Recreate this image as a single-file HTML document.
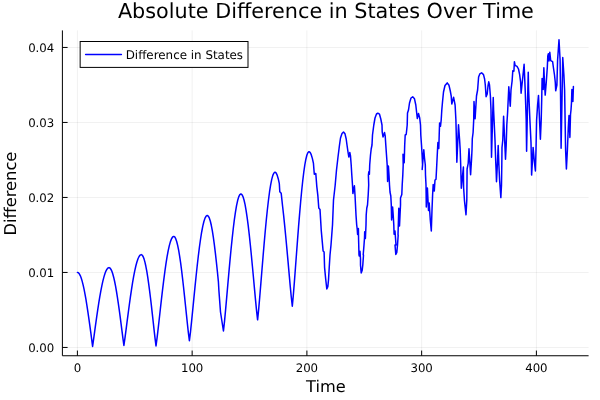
<!DOCTYPE html>
<html>
<head>
<meta charset="utf-8">
<title>Absolute Difference in States Over Time</title>
<style>
html,body{margin:0;padding:0;background:#fff;}
body{width:600px;height:400px;overflow:hidden;}
svg{display:block;}
text{font-family:"DejaVu Sans","Liberation Sans",sans-serif;fill:#000;text-rendering:geometricPrecision;}
</style>
</head>
<body>
<svg width="600" height="400" viewBox="0 0 600 400">
<rect x="0" y="0" width="600" height="400" fill="#fff"/>
<g>
<line x1="77.40" y1="30.4" x2="77.40" y2="355.75" stroke="#000" stroke-opacity="0.1" stroke-width="0.6"/>
<line x1="192.15" y1="30.4" x2="192.15" y2="355.75" stroke="#000" stroke-opacity="0.1" stroke-width="0.6"/>
<line x1="306.90" y1="30.4" x2="306.90" y2="355.75" stroke="#000" stroke-opacity="0.1" stroke-width="0.6"/>
<line x1="421.65" y1="30.4" x2="421.65" y2="355.75" stroke="#000" stroke-opacity="0.1" stroke-width="0.6"/>
<line x1="536.40" y1="30.4" x2="536.40" y2="355.75" stroke="#000" stroke-opacity="0.1" stroke-width="0.6"/>
<line x1="62.4" y1="347.45" x2="588.6" y2="347.45" stroke="#000" stroke-opacity="0.1" stroke-width="0.6"/>
<line x1="62.4" y1="272.45" x2="588.6" y2="272.45" stroke="#000" stroke-opacity="0.1" stroke-width="0.6"/>
<line x1="62.4" y1="197.45" x2="588.6" y2="197.45" stroke="#000" stroke-opacity="0.1" stroke-width="0.6"/>
<line x1="62.4" y1="122.45" x2="588.6" y2="122.45" stroke="#000" stroke-opacity="0.1" stroke-width="0.6"/>
<line x1="62.4" y1="47.45" x2="588.6" y2="47.45" stroke="#000" stroke-opacity="0.1" stroke-width="0.6"/>
</g>
<g>
<line x1="62.4" y1="355.75" x2="588.6" y2="355.75" stroke="#000" stroke-width="1"/>
<line x1="62.4" y1="30.4" x2="62.4" y2="355.75" stroke="#000" stroke-width="1"/>
<line x1="77.40" y1="355.75" x2="77.40" y2="350.55" stroke="#000" stroke-width="1"/>
<text x="77.40" y="371.85" text-anchor="middle" font-size="11.75">0</text>
<line x1="192.15" y1="355.75" x2="192.15" y2="350.55" stroke="#000" stroke-width="1"/>
<text x="192.15" y="371.85" text-anchor="middle" font-size="11.75">100</text>
<line x1="306.90" y1="355.75" x2="306.90" y2="350.55" stroke="#000" stroke-width="1"/>
<text x="306.90" y="371.85" text-anchor="middle" font-size="11.75">200</text>
<line x1="421.65" y1="355.75" x2="421.65" y2="350.55" stroke="#000" stroke-width="1"/>
<text x="421.65" y="371.85" text-anchor="middle" font-size="11.75">300</text>
<line x1="536.40" y1="355.75" x2="536.40" y2="350.55" stroke="#000" stroke-width="1"/>
<text x="536.40" y="371.85" text-anchor="middle" font-size="11.75">400</text>
<line x1="62.4" y1="347.45" x2="67.6" y2="347.45" stroke="#000" stroke-width="1"/>
<text x="54.3" y="351.50" text-anchor="end" font-size="11.75">0.00</text>
<line x1="62.4" y1="272.45" x2="67.6" y2="272.45" stroke="#000" stroke-width="1"/>
<text x="54.3" y="276.50" text-anchor="end" font-size="11.75">0.01</text>
<line x1="62.4" y1="197.45" x2="67.6" y2="197.45" stroke="#000" stroke-width="1"/>
<text x="54.3" y="201.50" text-anchor="end" font-size="11.75">0.02</text>
<line x1="62.4" y1="122.45" x2="67.6" y2="122.45" stroke="#000" stroke-width="1"/>
<text x="54.3" y="126.50" text-anchor="end" font-size="11.75">0.03</text>
<line x1="62.4" y1="47.45" x2="67.6" y2="47.45" stroke="#000" stroke-width="1"/>
<text x="54.3" y="51.50" text-anchor="end" font-size="11.75">0.04</text>
</g>
<text x="325.9" y="18.2" text-anchor="middle" font-size="20.75">Absolute Difference in States Over Time</text>
<text x="325.9" y="391.6" text-anchor="middle" font-size="16.2">Time</text>
<text transform="translate(16.3,193.6) rotate(-90)" text-anchor="middle" font-size="16.3">Difference</text>
<polyline points="77.40,272.40 78.35,272.76 79.30,273.82 80.25,275.59 81.20,278.03 82.15,281.14 83.10,284.87 84.05,289.20 85.00,294.07 85.95,299.45 86.90,305.29 87.85,311.52 88.80,318.08 89.75,324.92 90.70,331.96 91.65,339.15 92.60,346.40 93.62,339.06 94.65,331.57 95.67,324.14 96.70,316.88 97.72,309.86 98.75,303.18 99.77,296.91 100.80,291.10 101.83,285.83 102.85,281.15 103.88,277.10 104.90,273.72 105.92,271.07 106.95,269.15 107.97,267.99 109.00,267.60 109.93,267.99 110.86,269.16 111.79,271.10 112.72,273.78 113.66,277.18 114.59,281.25 115.52,285.96 116.45,291.25 117.38,297.06 118.31,303.33 119.24,309.97 120.18,316.92 121.11,324.08 122.04,331.36 122.97,338.61 123.90,345.50 124.98,337.86 126.07,329.58 127.15,321.18 128.24,312.85 129.32,304.73 130.41,296.92 131.49,289.54 132.57,282.68 133.66,276.42 134.74,270.83 135.83,266.00 136.91,261.96 138.00,258.77 139.08,256.46 140.17,255.07 141.25,254.60 142.17,255.08 143.09,256.51 144.02,258.87 144.94,262.14 145.86,266.28 146.78,271.23 147.70,276.93 148.62,283.31 149.55,290.29 150.47,297.78 151.39,305.67 152.31,313.86 153.23,322.20 154.16,330.56 155.08,338.70 156.00,346.00 157.11,337.68 158.22,328.14 159.33,318.23 160.44,308.26 161.55,298.44 162.66,288.92 163.77,279.87 164.88,271.40 165.98,263.64 167.09,256.70 168.20,250.67 169.31,245.62 170.42,241.63 171.53,238.74 172.64,236.99 173.75,236.40 174.73,236.97 175.71,238.66 176.68,241.46 177.66,245.33 178.64,250.21 179.62,256.03 180.60,262.73 181.57,270.20 182.55,278.33 183.53,287.02 184.51,296.11 185.49,305.47 186.47,314.92 187.44,324.25 188.42,333.14 189.40,340.70 190.52,331.62 191.63,320.93 192.75,309.73 193.86,298.38 194.98,287.14 196.09,276.21 197.21,265.78 198.32,256.00 199.44,247.03 200.56,238.99 201.67,231.99 202.79,226.12 203.90,221.48 205.02,218.12 206.13,216.08 207.25,215.40 208.26,216.03 209.28,217.91 210.29,221.01 211.30,225.29 212.31,230.70 213.32,237.16 214.34,244.58 215.35,252.86 216.36,261.88 217.38,271.50 218.39,281.58 218.90,290.50 220.50,312.00 223.45,331.00 224.54,321.06 225.63,309.37 226.72,297.11 227.81,284.69 228.90,272.39 229.99,260.43 231.08,249.02 232.18,238.33 233.27,228.51 234.36,219.71 235.45,212.05 236.54,205.63 237.63,200.55 238.72,196.87 239.81,194.65 240.90,193.90 241.94,194.58 242.99,196.63 244.03,200.01 245.08,204.67 246.12,210.57 247.16,217.60 248.21,225.68 249.25,234.70 250.29,244.52 251.34,255.00 252.38,265.98 253.43,277.28 254.47,288.68 255.51,299.94 256.56,310.68 257.60,319.80 258.69,309.10 259.78,296.52 260.86,283.32 261.95,269.95 263.04,256.70 264.12,243.83 265.21,231.54 266.30,220.03 267.39,209.46 268.48,199.98 269.56,191.74 270.65,184.83 271.74,179.36 272.82,175.40 273.91,173.00 275.00,172.20 276.08,172.93 277.16,175.11 278.24,178.70 279.32,183.67 279.80,191.80 281.20,193.30 282.57,206.03 283.65,215.62 284.73,226.07 285.81,237.23 286.89,248.92 287.98,260.94 289.06,273.08 290.14,285.06 291.22,296.49 292.30,306.20 293.34,295.00 294.39,281.83 295.43,268.01 296.48,254.02 297.52,240.15 298.56,226.68 299.61,213.82 300.65,201.76 301.69,190.70 302.74,180.78 303.78,172.15 304.82,164.92 305.87,159.20 306.91,155.05 307.96,152.54 309.00,151.70 310.11,152.45 311.23,154.68 312.34,158.36 313.45,163.45 314.30,174.20 315.80,173.50 316.79,186.36 317.90,196.19 318.80,208.10 320.00,209.40 321.24,230.31 322.35,242.63 323.10,251.00 324.10,252.00 324.57,267.34 325.69,279.05 326.80,289.00 327.80,286.80 328.50,280.00 329.20,268.00 330.00,255.00 331.00,245.00 332.50,225.00 333.50,200.00 335.20,185.00 336.50,170.00 338.00,157.00 339.50,145.00 340.50,138.00 342.00,133.50 343.50,132.00 345.00,133.80 346.20,139.00 347.00,145.00 348.00,152.00 348.80,157.00 349.80,152.50 350.50,156.00 351.20,165.00 351.80,175.00 352.50,185.00 352.90,193.50 354.40,185.80 355.00,195.00 355.50,205.00 356.00,215.00 356.70,225.00 357.20,229.00 357.60,234.50 358.40,228.50 358.60,240.00 359.00,255.00 359.30,256.00 360.00,251.20 360.50,259.00 360.50,265.00 361.20,273.00 362.20,270.20 362.80,265.00 363.50,255.00 363.20,255.00 364.00,245.00 364.50,238.00 364.70,231.80 365.40,238.50 366.00,225.00 366.20,215.00 366.80,208.00 367.50,205.00 368.20,195.00 368.70,185.00 368.40,175.00 368.80,171.80 369.40,174.20 369.70,165.00 370.50,155.00 371.20,149.00 372.00,145.00 372.50,135.00 373.80,125.00 375.00,118.00 376.50,114.00 377.80,113.20 379.50,114.20 380.80,119.00 382.00,125.00 382.20,132.00 383.00,137.00 384.50,132.50 385.20,136.00 385.80,145.00 386.50,155.00 387.20,165.00 387.60,181.50 388.40,166.00 389.00,175.00 389.50,185.00 390.00,192.00 390.80,196.00 391.30,205.00 391.60,220.00 392.60,207.00 393.20,215.00 393.80,225.00 394.10,234.20 395.00,231.00 395.50,238.00 396.00,245.00 395.00,245.00 395.80,254.50 396.80,252.50 397.50,245.00 398.20,235.00 398.00,235.00 398.80,208.20 399.50,226.00 400.50,205.00 400.50,198.00 401.80,194.50 402.20,185.00 402.80,175.00 403.20,165.00 403.00,154.20 404.20,162.80 404.70,145.00 405.20,135.00 406.20,134.50 406.80,129.00 407.20,125.00 407.50,113.00 408.50,110.00 409.50,103.00 411.00,98.00 412.70,96.80 414.50,98.80 415.80,105.00 416.80,114.00 417.30,118.50 418.50,113.50 419.70,118.00 420.50,125.00 420.80,135.00 421.50,145.00 422.10,155.00 422.60,165.00 422.20,169.50 423.80,149.70 424.50,158.00 425.30,165.00 425.50,175.00 426.00,185.00 426.30,207.00 427.40,188.00 428.50,210.50 429.20,203.00 430.30,220.00 431.30,231.00 432.00,210.00 432.60,195.00 433.20,184.50 434.30,191.00 435.00,180.00 436.00,179.30 436.50,170.00 437.00,160.00 437.50,150.00 437.90,142.50 438.80,148.50 439.20,135.00 439.60,123.00 440.50,126.20 441.20,120.00 441.80,110.00 442.50,102.00 443.50,92.00 445.00,85.50 447.20,82.90 449.00,85.30 450.30,91.00 451.20,96.00 451.80,104.00 453.60,97.30 455.10,105.00 455.90,120.00 456.40,140.00 456.85,162.20 458.50,124.70 459.60,140.00 460.20,150.00 460.70,165.00 461.10,180.00 461.30,188.30 463.40,167.10 463.60,187.50 464.50,201.00 466.00,214.80 466.80,200.00 467.00,180.00 467.10,169.00 468.20,163.30 469.00,148.70 470.60,174.80 471.50,160.00 472.00,150.00 472.30,138.75 473.10,132.50 473.70,120.00 474.00,101.50 475.10,118.70 476.50,96.00 477.60,90.00 478.60,77.00 479.80,73.90 481.60,72.80 483.50,74.60 484.60,79.00 485.30,85.00 486.10,96.80 487.20,94.00 488.00,86.00 488.75,81.80 489.50,85.00 490.40,96.00 491.00,110.00 491.30,140.00 491.50,157.30 492.70,115.00 493.25,97.60 493.60,110.00 495.00,140.00 495.75,162.50 496.10,170.00 496.50,181.70 497.60,160.00 498.20,145.50 498.90,165.00 499.60,180.00 500.30,190.00 500.85,197.60 501.50,185.00 501.80,165.00 502.00,147.50 502.80,140.00 503.60,116.20 504.65,140.00 505.50,159.30 506.20,145.00 506.80,125.00 507.60,112.50 508.30,97.50 508.80,86.70 510.25,106.30 511.00,90.00 512.10,81.00 512.80,70.70 513.90,71.20 514.40,61.70 515.10,65.30 517.00,66.40 518.50,69.00 519.60,74.30 520.60,81.80 521.10,93.20 522.50,80.00 524.10,64.30 525.20,90.00 526.20,120.00 526.60,151.20 527.60,100.00 528.25,72.20 528.60,90.00 529.90,120.00 531.00,142.50 531.40,160.00 531.60,175.10 532.50,160.00 533.10,147.40 534.40,162.00 535.40,171.00 536.00,150.00 536.60,120.00 537.60,105.00 538.50,95.40 539.50,120.00 540.40,139.30 541.20,120.00 541.70,100.00 542.10,78.50 543.20,89.50 543.85,67.70 544.60,85.00 545.20,95.10 546.25,82.50 547.30,67.50 547.80,56.00 548.30,53.80 549.00,61.00 549.80,52.30 550.70,60.60 552.60,61.60 553.40,67.50 554.50,75.00 555.30,82.50 555.70,90.80 556.90,85.00 557.60,60.00 559.00,39.70 560.10,60.00 560.50,90.00 560.80,120.00 561.10,148.30 562.00,100.00 562.75,57.60 563.90,75.00 564.60,90.00 565.10,120.00 565.60,150.00 566.40,169.00 567.40,150.00 568.30,127.50 569.00,115.50 569.90,137.40 570.50,114.50 571.00,110.00 571.50,102.50 571.90,89.60 572.90,101.50 573.40,86.50" fill="none" stroke="#0000ff" stroke-width="1.5" stroke-linejoin="round" stroke-linecap="round"/>
<rect x="80.15" y="41.5" width="167.85" height="25.9" fill="#fff" stroke="#000" stroke-width="1"/>
<line x1="85.6" y1="54.6" x2="121.4" y2="54.6" stroke="#0000ff" stroke-width="1.5" stroke-linecap="round"/>
<text x="125.7" y="58.9" font-size="11.9">Difference in States</text>
</svg>
</body>
</html>
